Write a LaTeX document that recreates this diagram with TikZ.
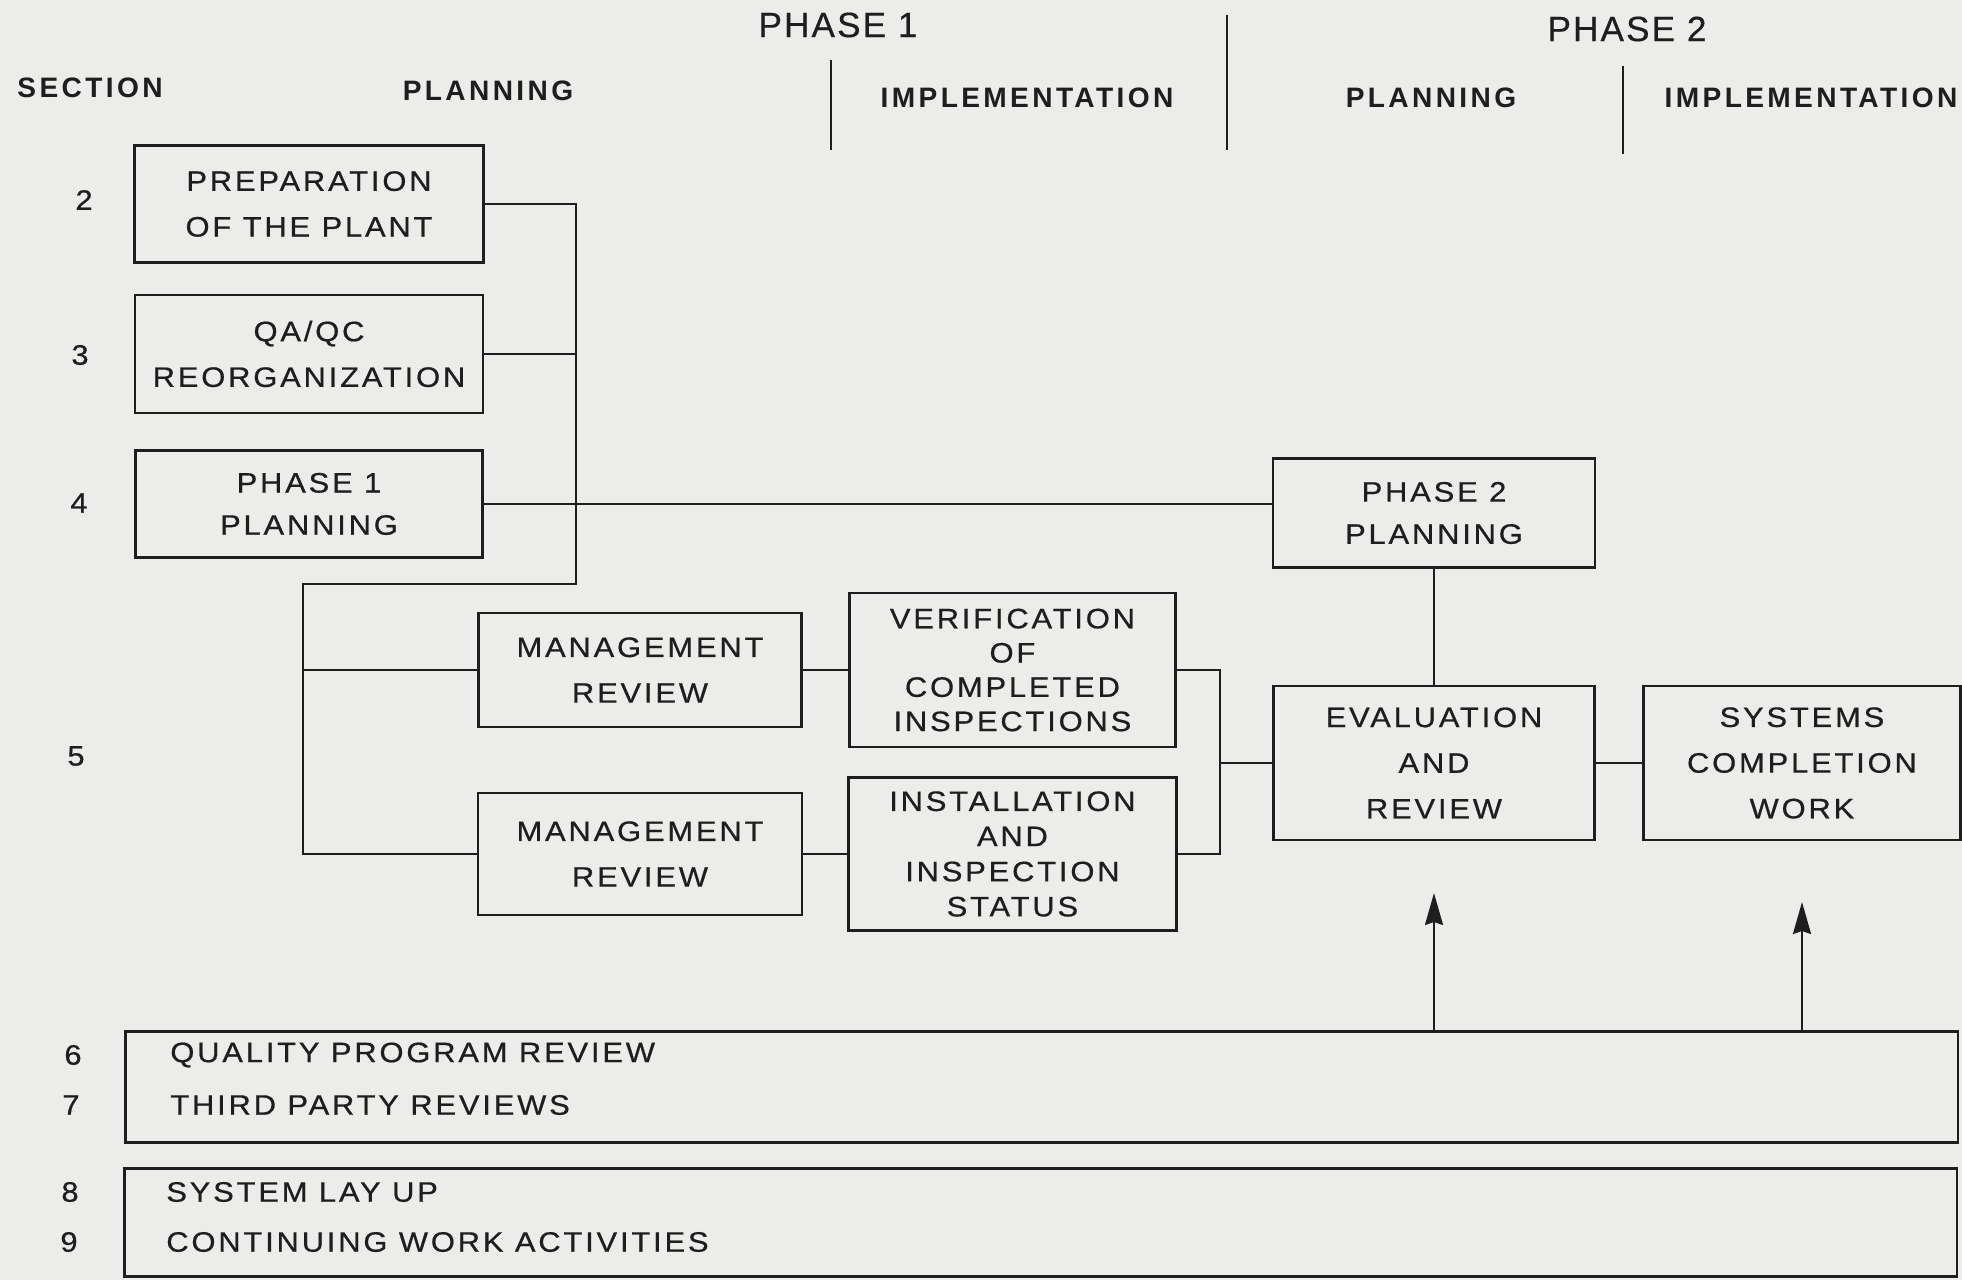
\documentclass[tikz,border=0pt]{standalone}
\usepackage{fontspec}
\setmainfont{Liberation Sans}
\newfontfamily\chartfont[LetterSpace=10, FakeStretch=1.1, FakeBold=0.6]{Liberation Sans}
\newfontfamily\headfont[LetterSpace=12]{Liberation Sans Bold}
\newfontfamily\phasefont[LetterSpace=6, FakeBold=0.4]{Liberation Sans}
\usetikzlibrary{positioning, arrows.meta}
\definecolor{paper}{RGB}{236,236,234}
\definecolor{ink}{RGB}{30,30,30}
\tikzset{
x=0.02cm, y=-0.02cm, % one unit is one pixel of the scan, y runs down
>={Stealth[length=6.4mm, width=3.6mm, inset=0.6mm]}, % filled arrow heads
node distance=3cm, % spacing of the stacked boxes on the left
every node/.style={text=ink},
box/.style={draw=ink, line width=1.5pt, align=center, inner sep=2pt, font=\chartfont\fontsize{16}{26}\selectfont}, % activity boxes
tallbox/.style={box, font=\chartfont\fontsize{16}{19.5}\selectfont}, % four line boxes
band/.style={draw=ink, line width=1.5pt, anchor=north west, minimum width=36.66cm, minimum height=2.22cm}, % long boxes at the bottom
bandtext/.style={anchor=west, inner sep=0pt, font=\chartfont\fontsize{16}{18}\selectfont},
head/.style={font=\headfont\fontsize{16}{18}\selectfont}, % column heads
phase/.style={font=\phasefont\fontsize{20}{22}\selectfont},
secnum/.style={font=\chartfont\fontsize{16}{18}\selectfont},
link/.style={draw=ink, line width=1.3pt},
divider/.style={draw=ink, line width=1.5pt},
}
\begin{document}
\begin{tikzpicture}
    \useasboundingbox (0,0) rectangle (1962,1280);
    \fill[paper] (0,0) rectangle (1962,1280);
    \clip (0,0) rectangle (1962,1280);

    % column heads
    \node[phase] (ph1) at (838,25) {PHASE 1};
    \node[phase] (ph2) at (1627,29) {PHASE 2};
    \node[head] (sect) at (90,88) {SECTION};
    \node[head] (plan1) at (488,91) {PLANNING};
    \node[head] (impl1) at (1027,98) {IMPLEMENTATION};
    \node[head] (plan2) at (1431,98) {PLANNING};
    \node[head] (impl2) at (1811,98) {IMPLEMENTATION};
    \draw[divider] (831,60) -- (831,150);
    \draw[divider] (1227,15) -- (1227,150);
    \draw[divider] (1623,66) -- (1623,154);

    % section numbers
    \foreach \n/\x/\y in {2/84/200, 3/80/355, 4/79/503, 5/76/756, 6/73/1055, 7/71/1105, 8/70/1192, 9/69/1242}
        \node[secnum] (sec\n) at (\x,\y) {\n};

    % phase 1
    \node[box, minimum width=6.98cm, minimum height=2.34cm] (prep) at (309,204) {PREPARATION\\OF THE PLANT};
    \node[box, below of=prep, minimum width=6.96cm, minimum height=2.36cm] (qaqc) {QA/QC\\REORGANIZATION};
    \node[box, below of=qaqc, minimum width=6.94cm, minimum height=2.14cm, font=\chartfont\fontsize{16}{24}\selectfont] (p1plan) {PHASE 1\\PLANNING};
    \node[box, minimum width=6.46cm, minimum height=2.28cm] (mgmta) at (640,670) {MANAGEMENT\\REVIEW};
    \node[box, below of=mgmta, node distance=3.68cm, minimum width=6.48cm, minimum height=2.44cm] (mgmtb) {MANAGEMENT\\REVIEW};
    \node[tallbox, right of=mgmta, node distance=7.45cm, minimum width=6.52cm, minimum height=3.08cm] (verif) {VERIFICATION\\OF\\COMPLETED\\INSPECTIONS};
    \node[tallbox, right of=mgmtb, node distance=7.45cm, minimum width=6.56cm, minimum height=3.06cm, font=\chartfont\fontsize{16}{20}\selectfont] (instal) {INSTALLATION\\AND\\INSPECTION\\STATUS};

    % phase 2
    \node[box, minimum width=6.44cm, minimum height=2.18cm, font=\chartfont\fontsize{16}{24}\selectfont] (p2plan) at (1434,513) {PHASE 2\\PLANNING};
    \node[box, below of=p2plan, node distance=5cm, minimum width=6.42cm, minimum height=3.08cm] (evalrev) {EVALUATION\\AND\\REVIEW};
    \node[box, right of=evalrev, node distance=7.36cm, minimum width=6.34cm, minimum height=3.08cm] (syscomp) {SYSTEMS\\COMPLETION\\WORK};

    % links
    \coordinate (busa) at (576,584);
    \coordinate (busb) at (303,584);
    \coordinate (join) at (1220,762);
    \draw[link] (prep.east) -- (prep.east -| busa) -- (busa) -- (busb) |- (mgmtb.west);
    \draw[link] (qaqc.east) -- (qaqc.east -| busa);
    \draw[link] (busb |- mgmta.west) -- (mgmta.west);
    \draw[link] (p1plan.east) -- (p1plan.east -| p2plan.west);
    \draw[link] (mgmta.east) -- (mgmta.east -| verif.west);
    \draw[link] (mgmtb.east) -- (mgmtb.east -| instal.west);
    \draw[link] (verif.east) -- (verif.east -| join) -- (instal.east -| join) -- (instal.east);
    \draw[link] (evalrev.west -| join) -- (evalrev.west);
    \draw[link] (p2plan) -- (evalrev);
    \draw[link] (evalrev) -- (syscomp);

    % reviews and continuing work
    \node[band] (qprev) at (124,1030) {};
    \node[band, minimum height=2.16cm] (layup) at (123,1167) {};
    \node[bandtext] (qpr) at (170,1055) {QUALITY PROGRAM REVIEW};
    \node[bandtext] (tpr) at (170,1105) {THIRD PARTY REVIEWS};
    \node[bandtext] (slu) at (166,1192) {SYSTEM LAY UP};
    \node[bandtext] (cwa) at (166,1242) {CONTINUING WORK ACTIVITIES};
    \coordinate (tipa) at (1434,893);
    \coordinate (tipb) at (1802,902);
    \draw[link, ->] (qprev.north -| tipa) -- (tipa);
    \draw[link, ->] (qprev.north -| tipb) -- (tipb);
\end{tikzpicture}
\end{document}
